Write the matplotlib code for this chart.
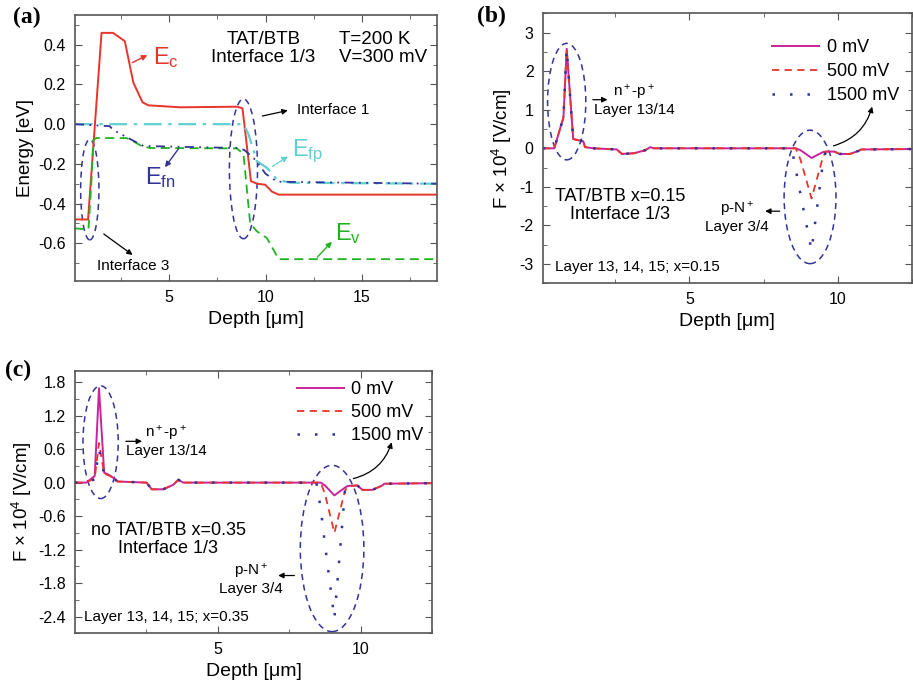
import matplotlib
matplotlib.use('Agg')
import matplotlib.pyplot as plt
from matplotlib.patches import Ellipse
from matplotlib.ticker import MultipleLocator, FormatStrFormatter

plt.rcParams['font.family'] = ['Liberation Sans', 'DejaVu Sans']
plt.rcParams['mathtext.fontset'] = 'custom'
plt.rcParams['mathtext.rm'] = 'Liberation Sans'
plt.rcParams['mathtext.it'] = 'Liberation Sans:italic'
plt.rcParams['mathtext.default'] = 'regular'
plt.rcParams['axes.unicode_minus'] = False

# ---- panel (a): band diagram, T=200 K, V=300 mV ----
ec_depth = [0.1, 0.78, 1.48, 2.08, 2.69, 3.13, 3.61, 3.91, 5.56, 8.51, 8.8,
            9.24, 9.55, 9.98, 10.33, 10.68, 18.9]
ec_energy = [-0.48, -0.48, 0.46, 0.46, 0.418, 0.21, 0.11, 0.095, 0.085, 0.088,
             0.08, -0.287, -0.30, -0.305, -0.34, -0.355, -0.355]

ev_depth = [0.1, 0.8, 0.95, 1.05, 1.2, 2.78, 3.2, 3.56, 4.0, 8.51, 8.85, 9.1,
            9.2, 9.55, 10.07, 10.68, 18.9]
ev_energy = [-0.525, -0.53, -0.3, -0.08, -0.07, -0.07, -0.09, -0.11, -0.12,
             -0.122, -0.15, -0.4, -0.5, -0.54, -0.574, -0.68, -0.68]

efp_depth = [0.1, 8.85, 9.11, 9.55, 10.07, 10.6, 11.3, 18.9]
efp_energy = [0.0, 0.0, -0.05, -0.186, -0.22, -0.28, -0.295, -0.30]

efn_depth = [0.1, 1.9, 2.1, 3.65, 8.5, 8.9, 9.47, 10.0, 10.6, 18.9]
efn_energy = [0.0, -0.01, -0.03, -0.11, -0.12, -0.13, -0.18, -0.25, -0.29, -0.30]

# ---- panel (b): field, TAT/BTB x=0.15 ----
b_depth = [0.05, 0.44, 0.75, 0.86, 1.08, 1.42, 1.48, 1.76, 2.55, 2.72, 3.12,
           3.51, 3.68, 3.79, 8.45, 8.59, 8.75, 9.12, 9.5, 9.6, 9.89, 10.06,
           10.4, 10.73, 10.79, 12.5]
b_0mv = [0, 0, 0.80, 2.58, 0.24, 0.18, 0.03, 0, -0.03, -0.145, -0.13, -0.05,
         0.03, 0, 0, 0, -0.05, -0.25, -0.1, -0.085, -0.085, -0.145, -0.15,
         -0.06, -0.03, -0.02]
b_500mv = [0, 0, 0.80, 2.58, 0.24, 0.18, 0.03, 0, -0.03, -0.145, -0.13, -0.05,
           0.03, 0, 0, 0, -0.3, -1.3, -0.24, -0.085, -0.085, -0.145, -0.15,
           -0.06, -0.03, -0.02]
b_1500mv = [0, 0, 0.80, 2.58, 0.24, 0.18, 0.03, 0, -0.03, -0.145, -0.13, -0.05,
            0.03, 0, 0, -0.55, -1.2, -2.65, -0.4, -0.085, -0.085, -0.145, -0.15,
            -0.06, -0.03, -0.02]

# ---- panel (c): field, no TAT/BTB x=0.35 ----
c_depth = [0.02, 0.42, 0.71, 0.86, 1.04, 1.24, 1.42, 1.5, 2.52, 2.7, 3.1,
           3.45, 3.63, 3.8, 8.45, 8.6, 8.75, 9.08, 9.45, 9.55, 9.88, 10.06,
           10.41, 10.76, 10.82, 12.5]
c_0mv = [0, 0, 0.12, 1.69, 0.18, 0.13, 0.06, 0.02, 0, -0.12, -0.12, -0.04,
         0.05, 0, 0, 0, -0.05, -0.23, -0.09, -0.06, -0.05, -0.13, -0.13,
         -0.05, -0.02, -0.01]
c_500mv = [0, 0, 0.08, 0.71, 0.16, 0.12, 0.06, 0.02, 0, -0.12, -0.12, -0.04,
           0.05, 0, 0, 0, -0.2, -0.9, -0.15, -0.07, -0.05, -0.13, -0.13,
           -0.05, -0.02, -0.01]
c_1500mv = [0, 0, 0.06, 0.59, 0.15, 0.12, 0.06, 0.02, 0, -0.12, -0.12, -0.04,
            0.05, 0, 0, -0.45, -1.1, -2.44, -0.15, -0.07, -0.05, -0.13, -0.13,
            -0.05, -0.02, -0.01]

bias_labels = ['0 mV', '500 mV', '1500 mV']

RED = '#e8352b'
GREEN = '#1fb41f'
CYAN = '#5fcfd0'
NAVY = '#33339a'
MAGENTA = '#c8239c'
ELL = dict(fill=False, ec=NAVY, lw=1.1, ls=(0, (4, 3)))


def style_axes(ax, xlim, ylim, ymajor, yminor, yfmt):
    ax.set_xlim(*xlim)
    ax.set_ylim(*ylim)
    ax.xaxis.set_major_locator(MultipleLocator(5))
    ax.xaxis.set_minor_locator(MultipleLocator(2.5))
    ax.yaxis.set_major_locator(MultipleLocator(ymajor))
    ax.yaxis.set_minor_locator(MultipleLocator(yminor))
    ax.yaxis.set_major_formatter(FormatStrFormatter(yfmt))
    ax.tick_params(which='both', direction='in', top=True, right=True,
                   labelsize=11.5, color='#555555', pad=6.5)
    ax.tick_params(which='major', length=5)
    ax.tick_params(which='minor', length=3)
    for s in ax.spines.values():
        s.set_color('#555555')
        s.set_linewidth(1.2)
    ax.set_xlabel('Depth [\u03bcm]', fontsize=14, labelpad=4)


fig = plt.figure(figsize=(9.13, 6.85), dpi=100)

# ---------------- (a) ----------------
ax = fig.add_axes([0.0821, 0.5898, 0.3965, 0.3883])
ax.plot(ec_depth, ec_energy, color=RED, lw=1.4)
ax.plot(ev_depth, ev_energy, color=GREEN, lw=1.3, ls=(0, (5, 3)))
ax.plot(efp_depth, efp_energy, color=CYAN, lw=1.6, ls=(0, (8, 3, 1.5, 3)))
ax.plot(efn_depth, efn_energy, color=NAVY, lw=1.3, ls=(0, (5, 3, 1, 3, 1, 3)))
ax.add_patch(Ellipse((0.87, -0.33), 0.95, 0.506, **ELL))
ax.add_patch(Ellipse((8.85, -0.225), 1.46, 0.704, **ELL))
style_axes(ax, (0.1, 18.9), (-0.79, 0.55), 0.2, 0.1, '%.1f')
ax.set_ylabel('Energy [eV]', fontsize=13.5, labelpad=3)

ax.annotate('', xy=(3.99, 0.354), xytext=(2.95, 0.304),
            arrowprops=dict(arrowstyle='-|>', color=RED, lw=1, mutation_scale=8))
ax.text(4.15, 0.336, r'$E_c$', color=RED, fontsize=17, va='center')
ax.annotate('', xy=(4.69, -0.228), xytext=(5.56, -0.113),
            arrowprops=dict(arrowstyle='-|>', color=NAVY, lw=1, mutation_scale=8))
ax.text(3.73, -0.267, r'$E_{fn}$', color=NAVY, fontsize=17, va='center')
ax.annotate('', xy=(11.29, -0.155), xytext=(10.24, -0.22),
            arrowprops=dict(arrowstyle='-|>', color=CYAN, lw=1, ls=(0, (2, 1)),
                            mutation_scale=8))
ax.text(11.39, -0.135, r'$E_{fp}$', color=CYAN, fontsize=17, va='center')
ax.annotate('', xy=(13.54, -0.582), xytext=(12.59, -0.68),
            arrowprops=dict(arrowstyle='-|>', color=GREEN, lw=1, mutation_scale=8))
ax.text(13.63, -0.55, r'$E_v$', color=GREEN, fontsize=17, va='center')
ax.annotate('', xy=(11.29, 0.072), xytext=(9.69, 0.038),
            arrowprops=dict(arrowstyle='-|>', color='black', lw=0.9, mutation_scale=8))
ax.text(11.65, 0.072, 'Interface 1', fontsize=11, va='center')
ax.annotate('', xy=(3.21, -0.667), xytext=(1.48, -0.545),
            arrowprops=dict(arrowstyle='-|>', color='black', lw=0.9, mutation_scale=8))
ax.text(3.14, -0.717, 'Interface 3', fontsize=11, ha='center', va='center')
ax.text(9.88, 0.381, 'TAT/BTB\nInterface 1/3', fontsize=13.5, ha='center',
        va='center', linespacing=1.1)
ax.text(13.79, 0.381, 'T=200 K\nV=300 mV', fontsize=13.5, ha='left',
        va='center', linespacing=1.1)


def field_panel(ax, depth, y0, y500, y1500):
    l0, = ax.plot(depth, y0, color=MAGENTA, lw=1.4)
    l1, = ax.plot(depth, y500, color=RED, lw=1.3, ls=(0, (4, 3)))
    l2, = ax.plot(depth, y1500, color=NAVY, lw=1.8, ls=(0, (1, 6)))
    return [l0, l1, l2]


# ---------------- (b) ----------------
ax = fig.add_axes([0.5944, 0.5864, 0.4042, 0.3942])
lines = field_panel(ax, b_depth, b_0mv, b_500mv, b_1500mv)
ax.add_patch(Ellipse((0.86, 1.21), 1.29, 3.02, **ELL))
ax.add_patch(Ellipse((9.07, -1.26), 1.75, 3.46, **ELL))
style_axes(ax, (0.05, 12.5), (-3.5, 3.5), 1, 0.5, '%d')
ax.set_ylabel(r'F $\times$ 10$^4$ [V/cm]', fontsize=13.5, labelpad=4)
ax.legend(lines, bias_labels, loc='upper right', bbox_to_anchor=(0.965, 0.905),
          frameon=False, fontsize=13, handlelength=2.6, labelspacing=0.4,
          borderpad=0, borderaxespad=0, handletextpad=0.4)
ax.annotate('', xy=(2.33, 1.26), xytext=(1.65, 1.26),
            arrowprops=dict(arrowstyle='-|>', color='black', lw=0.9, mutation_scale=8))
ax.text(3.14, 1.245, 'n$^+$-p$^+$\nLayer 13/14', fontsize=11, ha='center',
        va='center', linespacing=1.1)
ax.annotate('', xy=(7.46, -1.63), xytext=(8.14, -1.63),
            arrowprops=dict(arrowstyle='-|>', color='black', lw=0.9, mutation_scale=8))
ax.text(6.6, -1.78, 'p-N$^+$\nLayer 3/4', fontsize=11, ha='center',
        va='center', linespacing=1.1)
ax.annotate('', xy=(11.19, 1.15), xytext=(9.77, 0.044),
            arrowprops=dict(arrowstyle='-|>', color='black', lw=0.9, mutation_scale=8,
                            connectionstyle='arc3,rad=0.3'))
ax.text(2.67, -1.48, 'TAT/BTB x=0.15\nInterface 1/3', fontsize=13, ha='center',
        va='center', linespacing=1.1)
ax.text(0.46, -3.08, 'Layer 13, 14, 15; x=0.15', fontsize=11, va='center')

# ---------------- (c) ----------------
ax = fig.add_axes([0.0821, 0.0755, 0.3914, 0.3829])
lines = field_panel(ax, c_depth, c_0mv, c_500mv, c_1500mv)
ax.add_patch(Ellipse((0.915, 0.724), 1.23, 2.02, **ELL))
ax.add_patch(Ellipse((9.0, -1.18), 2.22, 2.98, **ELL))
style_axes(ax, (0.02, 12.5), (-2.7, 2.0), 0.6, 0.3, '%.1f')
ax.set_ylabel(r'F $\times$ 10$^4$ [V/cm]', fontsize=13.5, labelpad=3)
ax.legend(lines, bias_labels, loc='upper right', bbox_to_anchor=(0.975, 0.96),
          frameon=False, fontsize=13, handlelength=2.6, labelspacing=0.33,
          borderpad=0, borderaxespad=0, handletextpad=0.4)
ax.annotate('', xy=(2.46, 0.74), xytext=(1.70, 0.74),
            arrowprops=dict(arrowstyle='-|>', color='black', lw=0.9, mutation_scale=8))
ax.text(3.2, 0.745, 'n$^+$-p$^+$\nLayer 13/14', fontsize=11, ha='center',
        va='center', linespacing=1.1)
ax.annotate('', xy=(7.02, -1.665), xytext=(7.78, -1.665),
            arrowprops=dict(arrowstyle='-|>', color='black', lw=0.9, mutation_scale=8))
ax.text(6.18, -1.73, 'p-N$^+$\nLayer 3/4', fontsize=11, ha='center',
        va='center', linespacing=1.1)
ax.annotate('', xy=(11.11, 0.77), xytext=(9.65, 0.06),
            arrowprops=dict(arrowstyle='-|>', color='black', lw=0.9, mutation_scale=8,
                            connectionstyle='arc3,rad=0.3'))
ax.text(3.27, -1.02, 'no TAT/BTB x=0.35\nInterface 1/3', fontsize=13, ha='center',
        va='center', linespacing=1.1)
ax.text(0.33, -2.41, 'Layer 13, 14, 15; x=0.35', fontsize=11, va='center')

# panel letters
for x, y, s in [(0.014, 0.99, '(a)'), (0.522, 0.992, '(b)'), (0.005, 0.475, '(c)')]:
    fig.text(x, y, s, fontsize=17, fontweight='bold', family='Liberation Serif',
             va='top')

fig.savefig('out.png', dpi=100)
